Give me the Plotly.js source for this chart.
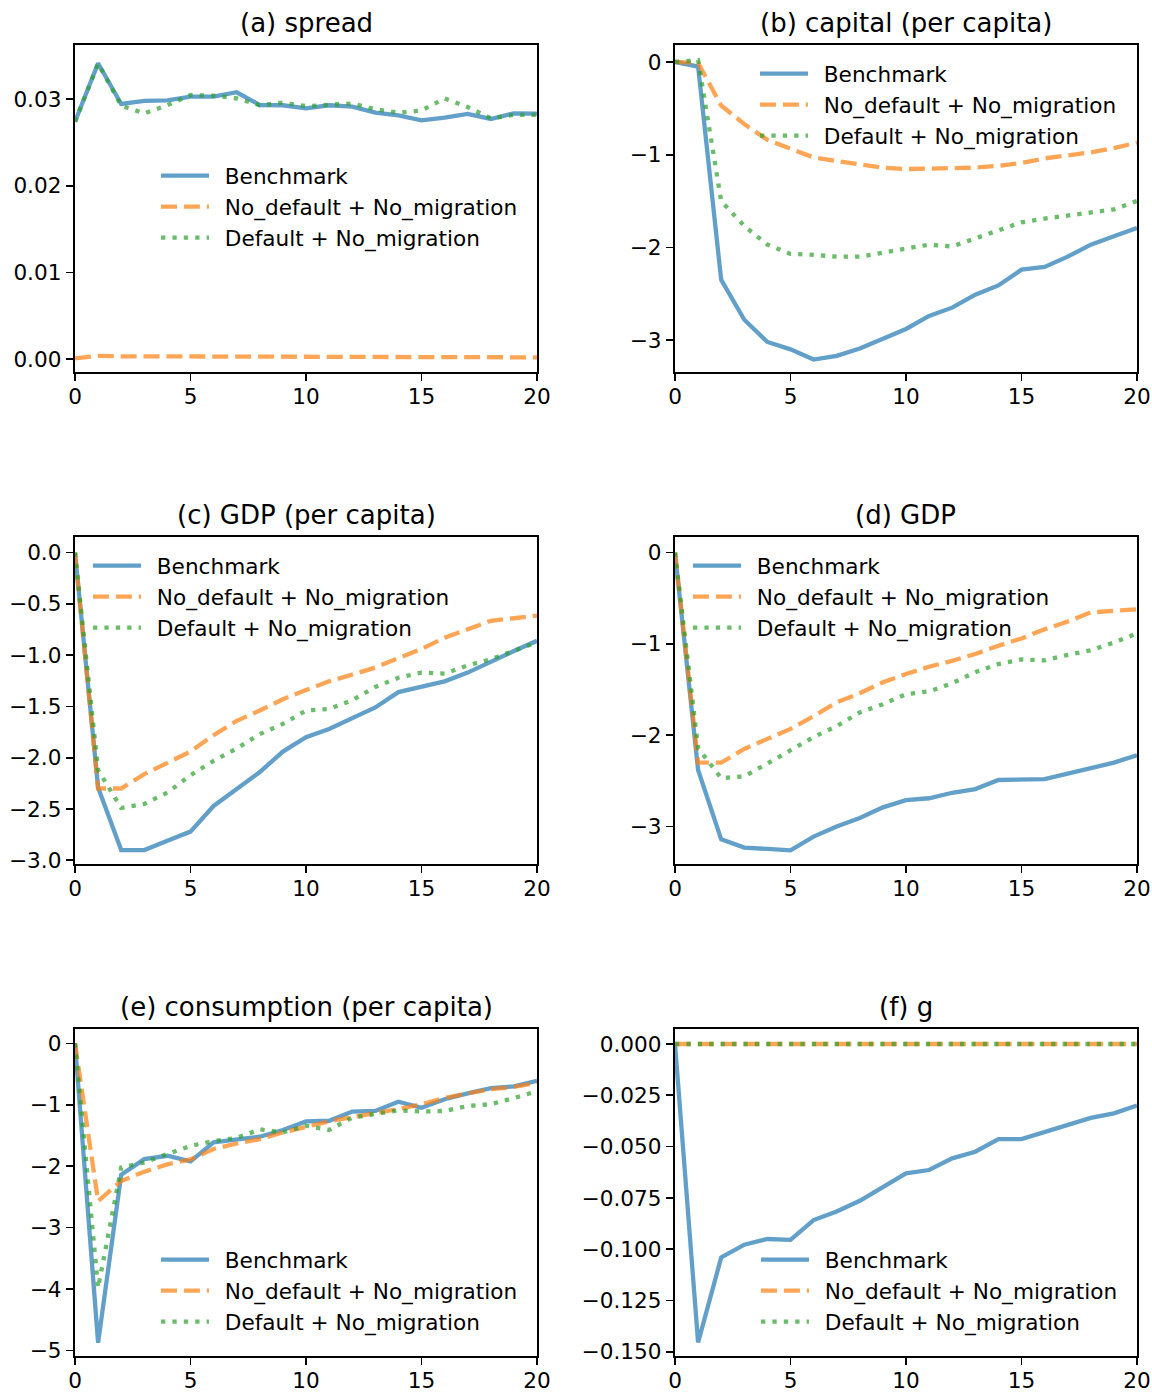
<!DOCTYPE html>
<html>
<head>
<meta charset="utf-8">
<script src="https://cdn.plot.ly/plotly-3.0.1.min.js"></script>
<style>
  html, body { margin: 0; padding: 0; background: #ffffff; }
  #chart { width: 1152px; height: 1393px; }
</style>
</head>
<body>
<div id="chart"></div>
<script>
// ---------------- data ----------------
const periods = [0,1,2,3,4,5,6,7,8,9,10,11,12,13,14,15,16,17,18,19,20];
const seriesNames = ["Benchmark", "No_default + No_migration", "Default + No_migration"];
const panelTitles = ["(a) spread", "(b) capital (per capita)", "(c) GDP (per capita)", "(d) GDP", "(e) consumption (per capita)", "(f) g"];

// (a) spread
const spreadBenchmark = [0.0274,0.03414,0.02945,0.0298,0.02987,0.0303,0.0303,0.0308,0.02933,0.0293,0.02895,0.0293,0.02914,0.02845,0.02814,0.02757,0.02787,0.0283,0.02772,0.02837,0.02834];
const spreadNoDefault = [0.0001,0.0004,0.00035,0.00035,0.00034,0.00033,0.00033,0.00032,0.00031,0.0003,0.0003,0.00029,0.00028,0.00028,0.00027,0.00026,0.00025,0.00025,0.00024,0.00024,0.00023];
const spreadDefault   = [0.0274,0.0341,0.02925,0.02837,0.0293,0.03048,0.0304,0.0301,0.0293,0.0296,0.0292,0.0294,0.0295,0.02884,0.02845,0.02868,0.0301,0.0291,0.0278,0.0282,0.0282];

// (b) capital (per capita)
const capitalBenchmark = [0,-0.05,-2.35,-2.78,-3.02,-3.10,-3.21,-3.17,-3.09,-2.99,-2.88,-2.74,-2.65,-2.51,-2.41,-2.24,-2.21,-2.10,-1.97,-1.88,-1.79];
const capitalNoDefault = [0,-0.01,-0.47,-0.67,-0.84,-0.94,-1.03,-1.07,-1.11,-1.14,-1.155,-1.15,-1.15,-1.14,-1.12,-1.09,-1.04,-1.01,-0.975,-0.93,-0.87];
const capitalDefault   = [0,0.02,-1.50,-1.77,-1.97,-2.07,-2.08,-2.10,-2.10,-2.06,-2.02,-1.97,-1.99,-1.90,-1.81,-1.73,-1.69,-1.66,-1.62,-1.59,-1.50];

// (c) GDP (per capita)
const gdpPcBenchmark = [0,-2.29,-2.90,-2.90,-2.81,-2.72,-2.47,-2.30,-2.14,-1.94,-1.80,-1.72,-1.61,-1.51,-1.36,-1.31,-1.255,-1.17,-1.06,-0.96,-0.86];
const gdpPcNoDefault = [0,-2.30,-2.30,-2.16,-2.05,-1.94,-1.78,-1.64,-1.54,-1.43,-1.34,-1.255,-1.19,-1.12,-1.03,-0.94,-0.83,-0.75,-0.665,-0.64,-0.615];
const gdpPcDefault   = [0,-2.12,-2.49,-2.45,-2.34,-2.17,-2.03,-1.91,-1.77,-1.67,-1.54,-1.525,-1.44,-1.31,-1.22,-1.17,-1.18,-1.10,-1.04,-0.96,-0.875];

// (d) GDP
const gdpBenchmark = [0,-2.38,-3.14,-3.23,-3.245,-3.26,-3.11,-3.00,-2.905,-2.79,-2.71,-2.69,-2.63,-2.59,-2.49,-2.49,-2.48,-2.42,-2.36,-2.30,-2.22];
const gdpNoDefault = [0,-2.30,-2.30,-2.15,-2.04,-1.93,-1.79,-1.64,-1.54,-1.42,-1.33,-1.25,-1.185,-1.11,-1.02,-0.94,-0.84,-0.755,-0.655,-0.64,-0.62];
const gdpDefault   = [0,-2.14,-2.47,-2.45,-2.31,-2.16,-2.02,-1.90,-1.75,-1.66,-1.55,-1.52,-1.43,-1.31,-1.22,-1.17,-1.18,-1.12,-1.07,-0.985,-0.885];

// (e) consumption (per capita)
const consBenchmark = [0,-4.875,-2.14,-1.885,-1.83,-1.92,-1.61,-1.56,-1.52,-1.41,-1.27,-1.26,-1.11,-1.10,-0.95,-1.05,-0.91,-0.815,-0.73,-0.70,-0.61];
const consNoDefault = [0,-2.57,-2.24,-2.09,-1.97,-1.89,-1.72,-1.63,-1.56,-1.45,-1.36,-1.27,-1.20,-1.14,-1.07,-0.99,-0.89,-0.815,-0.745,-0.71,-0.64];
const consDefault   = [0,-3.98,-2.02,-1.94,-1.80,-1.67,-1.59,-1.54,-1.40,-1.45,-1.34,-1.41,-1.21,-1.15,-1.09,-1.11,-1.10,-1.02,-0.99,-0.89,-0.78];

// (f) g
const gBenchmark = [0,-0.1454,-0.104,-0.0978,-0.095,-0.0954,-0.0858,-0.0816,-0.0764,-0.0694,-0.063,-0.0614,-0.0557,-0.0525,-0.0463,-0.0463,-0.043,-0.0398,-0.036,-0.0338,-0.030];
const gNoDefault = [0,0,0,0,0,0,0,0,0,0,0,0,0,0,0,0,0,0,0,0,0];
const gDefault   = [0,0,0,0,0,0,0,0,0,0,0,0,0,0,0,0,0,0,0,0,0];

// x tick labels
const xTickVals = [0,5,10,15,20];

// ---------------- styling / layout ----------------
const W = 1152, H = 1393;
const FONT = "DejaVu Sans, Verdana, sans-serif";
const colors = ["rgba(31,119,180,0.7)", "rgba(255,127,14,0.7)", "rgba(44,160,44,0.7)"];
const dashes = ["solid", "16px,6.9px", "4.3px,7.1px"];
const LEGEND_PAD = "\u2002"; // gap between legend handle and label

const panels = [
  {data:[spreadBenchmark, spreadNoDefault, spreadDefault], range:[-0.00146,0.03625], dtick:0.01, fmt:".2f"},
  {data:[capitalBenchmark, capitalNoDefault, capitalDefault], range:[-3.344,0.183], dtick:1, fmt:"d"},
  {data:[gdpPcBenchmark, gdpPcNoDefault, gdpPcDefault], range:[-3.036,0.152], dtick:0.5, fmt:".1f"},
  {data:[gdpBenchmark, gdpNoDefault, gdpDefault], range:[-3.41,0.171], dtick:1, fmt:"d"},
  {data:[consBenchmark, consNoDefault, consDefault], range:[-5.09,0.234], dtick:1, fmt:"d"},
  {data:[gBenchmark, gNoDefault, gDefault], range:[-0.152,0.0073], dtick:0.025, fmt:".3f"}
];

// pixel geometry of the axes boxes
const colX = [[75,537],[675,1137]];
const rowY = [[45,372],[537,864],[1029,1356]];
// legend box anchor (top-left, px)
const legendPos = [[156,155],[755,53],[88,545],[688,545],[156,1239],[756,1239]];

const traces = [];
const layout = {
  width: W, height: H,
  margin: {l:0, r:0, t:0, b:0},
  paper_bgcolor: "#ffffff",
  plot_bgcolor: "#ffffff",
  font: {family: FONT, size: 21.6, color: "#000000"},
  showlegend: true,
  annotations: []
};

panels.forEach((p, i) => {
  const col = i % 2, row = Math.floor(i / 2);
  const suffix = i === 0 ? "" : String(i + 1);
  const legendId = "legend" + suffix;
  p.data.forEach((ys, k) => {
    traces.push({
      type: "scatter", mode: "lines",
      x: periods, y: ys,
      name: LEGEND_PAD + seriesNames[k],
      xaxis: "x" + suffix, yaxis: "y" + suffix,
      legend: legendId,
      line: {color: colors[k], width: 4.3, dash: dashes[k]},
      hoverinfo: "skip"
    });
  });
  const xd = [colX[col][0] / W, colX[col][1] / W];
  const yd = [1 - rowY[row][1] / H, 1 - rowY[row][0] / H];
  const axCommon = {
    showgrid: false, zeroline: false,
    showline: true, linecolor: "#000000", linewidth: 1.7, mirror: true,
    ticks: "outside", ticklen: 7.5, tickwidth: 1.7, tickcolor: "#000000",
    tickfont: {family: FONT, size: 21.6, color: "#000000"},
    automargin: false, fixedrange: true
  };
  layout["xaxis" + suffix] = Object.assign({}, axCommon, {
    domain: xd, anchor: "y" + suffix, range: [0, 20],
    tickmode: "array", tickvals: xTickVals, ticktext: xTickVals.map(String),
    ticklabelstandoff: -3
  });
  layout["yaxis" + suffix] = Object.assign({}, axCommon, {
    domain: yd, anchor: "x" + suffix, range: p.range,
    tickmode: "linear", tick0: 0, dtick: p.dtick, tickformat: p.fmt
  });
  layout[legendId] = {
    x: legendPos[i][0] / W, y: 1 - legendPos[i][1] / H,
    xanchor: "left", yanchor: "top",
    bgcolor: "rgba(0,0,0,0)", borderwidth: 0,
    font: {family: FONT, size: 21.6, color: "#000000"},
    itemwidth: 48
  };
  layout.annotations.push({
    text: panelTitles[i],
    xref: "paper", yref: "paper",
    x: (xd[0] + xd[1]) / 2,
    y: 1 - (rowY[row][0] - 22) / H,
    xanchor: "center", yanchor: "middle",
    showarrow: false,
    font: {family: FONT, size: 26, color: "#000000"}
  });
});

Plotly.newPlot("chart", traces, layout, {displayModeBar: false, staticPlot: true});
</script>
</body>
</html>
